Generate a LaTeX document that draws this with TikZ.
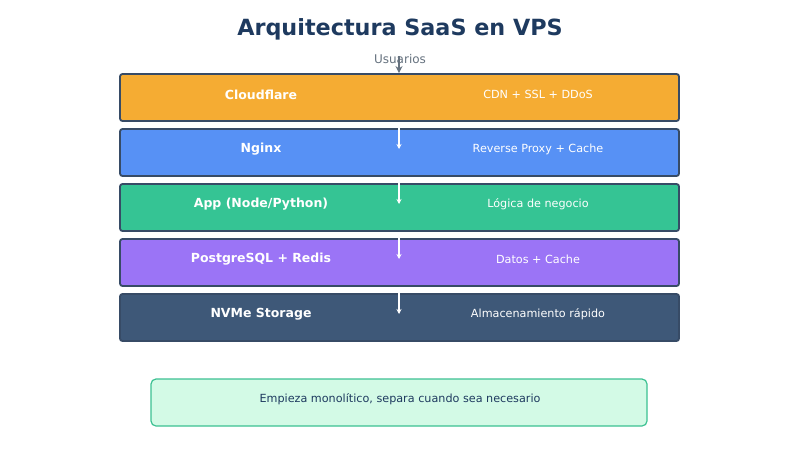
\documentclass[tikz,border=0pt]{standalone}
\usepackage{fontspec}
\setmainfont{DejaVu Sans}
\usetikzlibrary{arrows.meta}
\definecolor{titlec}{HTML}{1E3A5F}
\definecolor{edgec}{HTML}{374B66}
\definecolor{cfc}{HTML}{F5AC33}
\definecolor{ngc}{HTML}{5791F5}
\definecolor{appc}{HTML}{35C494}
\definecolor{pgc}{HTML}{9B74F6}
\definecolor{nvc}{HTML}{3E5878}
\definecolor{notefill}{HTML}{D3FAE6}
\definecolor{noteedge}{HTML}{3CC192}
\definecolor{grayc}{HTML}{66727F}
\tikzset{
  layer/.style={draw=edgec, line width=1.8pt, rounded corners=2.5pt, minimum width=559pt, minimum height=47pt, inner sep=0pt},
  ltitle/.style={font=\bfseries\fontsize{12.5}{14}\selectfont, text=white},
  ldesc/.style={font=\fontsize{11.2}{13}\selectfont, text=white},
  flow/.style={-{Stealth[length=5pt,width=5pt]}, white, line width=1.4pt},
}
\begin{document}
\begin{tikzpicture}[x=1pt,y=-1pt]
\useasboundingbox (0,0) rectangle (800,450);
\fill[white] (0,0) rectangle (800,450);
\node[font=\bfseries\fontsize{22.3}{26}\selectfont, text=titlec] (title) at (400,29) {Arquitectura SaaS en VPS};
\node[font=\fontsize{12}{14}\selectfont, text=grayc] (users) at (400,59.5) {Usuarios};

\node[layer, fill=cfc] (cf) at (399.5,97.5) {};
\node[layer, fill=ngc] (ng) at (399.5,152.5) {};
\node[layer, fill=appc] (app) at (399.5,207.5) {};
\node[layer, fill=pgc] (pg) at (399.5,262.5) {};
\node[layer, fill=nvc] (nv) at (399.5,317.5) {};

\node[ltitle] (cft) at (261,94.5) {Cloudflare};
\node[ldesc] (cfd) at (538,94.5) {CDN + SSL + DDoS};
\node[ltitle] (ngt) at (261,149.5) {Nginx};
\node[ldesc] (ngd) at (538,149.5) {Reverse Proxy + Cache};
\node[ltitle] (appt) at (261,204.5) {App (Node/Python)};
\node[ldesc] (appd) at (538,204.5) {Lógica de negocio};
\node[ltitle] (pgt) at (261,259.5) {PostgreSQL + Redis};
\node[ldesc] (pgd) at (538,259.5) {Datos + Cache};
\node[ltitle] (nvt) at (261,314.5) {NVMe Storage};
\node[ldesc] (nvd) at (538,314.5) {Almacenamiento rápido};

\draw[-{Stealth[length=7pt,width=7pt]}, grayc, line width=1.8pt] (399,56) -- (cf.north -| 399,0);
\coordinate (a1) at (399,149);
\coordinate (a2) at (399,204);
\coordinate (a3) at (399,259);
\coordinate (a4) at (399,314);
\draw[flow] (cf.south -| a1) -- (a1);
\draw[flow] (ng.south -| a2) -- (a2);
\draw[flow] (app.south -| a3) -- (a3);
\draw[flow] (pg.south -| a4) -- (a4);

\node[draw=noteedge, fill=notefill, line width=1.2pt, rounded corners=5pt, minimum width=496pt, minimum height=47pt, inner sep=0pt] (note) at (399,402.5) {};
\node[font=\fontsize{11.2}{13}\selectfont, text=titlec] (notet) at (400,399.5) {Empieza monolítico, separa cuando sea necesario};
\end{tikzpicture}
\end{document}
